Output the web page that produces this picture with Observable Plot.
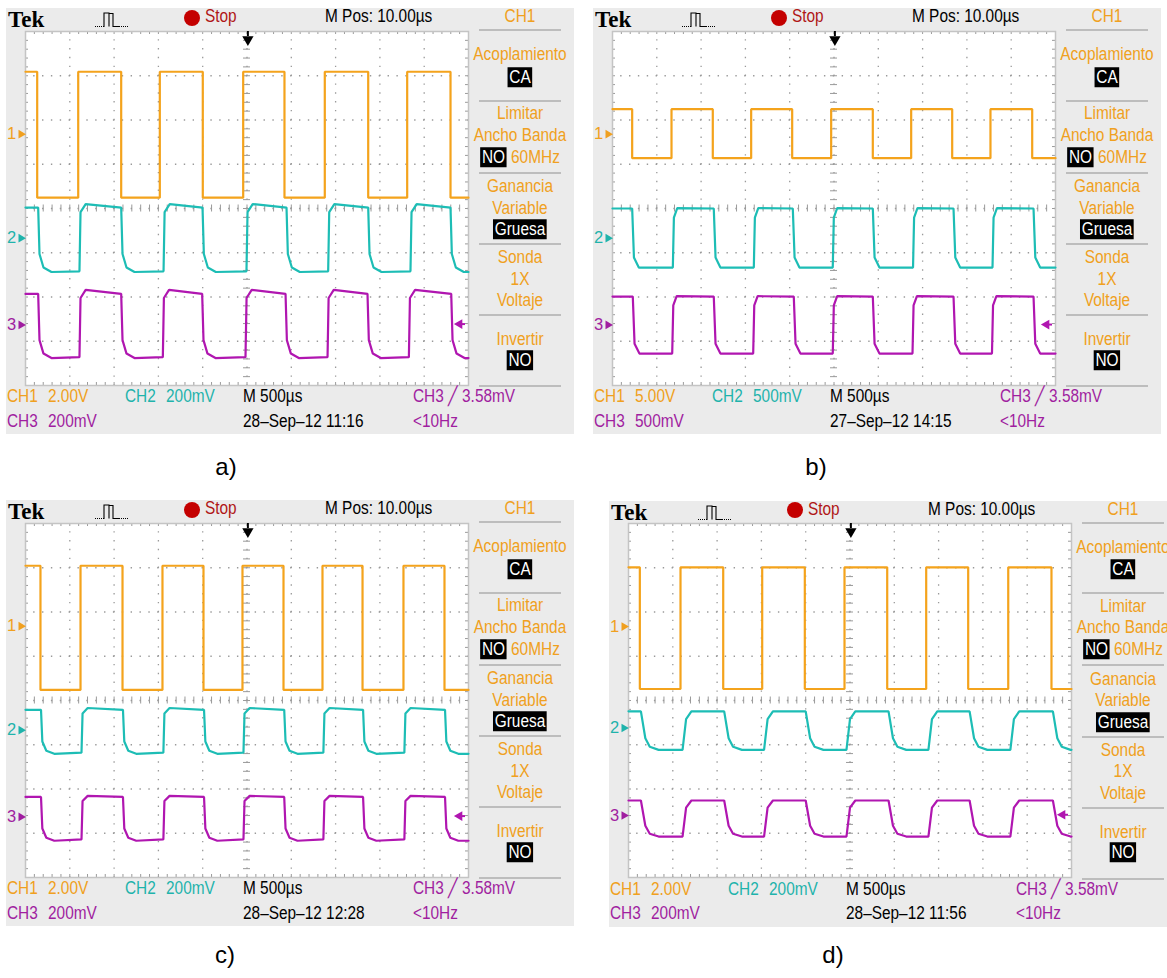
<!DOCTYPE html>
<html><head><meta charset="utf-8">
<script src="https://cdn.jsdelivr.net/npm/d3@7"></script>
<script src="https://cdn.jsdelivr.net/npm/@observablehq/plot@0.6"></script>
<style>
html,body{margin:0;padding:0;background:#fff}
#page{position:relative;width:1167px;height:978px;overflow:hidden;background:#fff}
.panel{position:absolute;width:600px;height:440px}
.bg{position:absolute;background:#ebebeb}
.t{position:absolute;white-space:nowrap;line-height:1}
.box{background:#000;color:#fff;padding:0 2px}
.sep{position:absolute;height:2px;background:#bdbdbd}
.lab{position:absolute;font-family:"Liberation Sans",Arial,sans-serif;font-size:24px;color:#000;transform:translate(-50%,-50%);line-height:1}
</style></head>
<body><div id="page"></div>
<script>
// ---------------- DATA ----------------
const panelNames = ["a)", "b)", "c)", "d)"];
const dates = ["28\u2013Sep\u201312 11:16", "27\u2013Sep\u201312 14:15", "28\u2013Sep\u201312 12:28", "28\u2013Sep\u201312 11:56"];
// volts per division for each panel
const ch1Scale = [2, 5, 2, 2];
const ch2Scale = [0.2, 0.5, 0.2, 0.2];
const ch3Scale = [0.2, 0.5, 0.2, 0.2];
const ch1ScaleLabel = ["2.00V", "5.00V", "2.00V", "2.00V"];
const ch2ScaleLabel = ["200mV", "500mV", "200mV", "200mV"];
const ch3ScaleLabel = ["200mV", "500mV", "200mV", "200mV"];
// channel ground-marker positions (divisions from screen centre)
const ch1Pos = [1.68, 1.68, 1.68, 1.67];
const ch2Pos = [-0.67, -0.67, -0.67, -0.62];
const ch3Pos = [-2.63, -2.63, -2.63, -2.60];
const timePerDiv = 0.5;          // ms  (M 500µs)
const triggerPos = 0.01;         // ms  (M Pos 10.00µs)
const triggerLevel = 0.00358;    // V   (CH3 3.58mV)

// edge times in ms from left of screen (alternating fall, rise ... ; every trace starts high)
const a_ch1_edges = [0.132, 0.595, 1.080, 1.516, 2.001, 2.457, 2.923, 3.378, 3.868, 4.308, 4.797];
const a_ch2_edges = [0.143, 0.609, 1.080, 1.558, 1.998, 2.494, 2.946, 3.416, 3.868, 4.345, 4.797];
const a_ch3_edges = [0.143, 0.609, 1.080, 1.550, 1.994, 2.483, 2.935, 3.409, 3.860, 4.327, 4.805];
const b_ch1_edges = [0.222, 0.666, 1.132, 1.565, 2.028, 2.468, 2.938, 3.371, 3.834, 4.266, 4.737];
const b_ch2_edges = [0.222, 0.681, 1.143, 1.595, 2.035, 2.486, 2.938, 3.392, 3.849, 4.289, 4.752];
const b_ch3_edges = [0.229, 0.674, 1.143, 1.588, 2.046, 2.486, 2.938, 3.386, 3.849, 4.283, 4.752];
const c_ch1_edges = [0.169, 0.621, 1.095, 1.546, 2.009, 2.449, 2.912, 3.352, 3.804, 4.266, 4.729];
const c_ch2_edges = [0.175, 0.632, 1.100, 1.556, 2.015, 2.460, 2.920, 3.362, 3.810, 4.276, 4.735];
const c_ch3_edges = [0.175, 0.632, 1.100, 1.556, 2.015, 2.460, 2.920, 3.362, 3.810, 4.276, 4.735];
const d_ch1_edges = [0.128, 0.587, 1.069, 1.509, 1.990, 2.438, 2.920, 3.360, 3.834, 4.286, 4.774];
const d_ch2_edges = [0.140, 0.610, 1.080, 1.530, 2.000, 2.460, 2.935, 3.385, 3.850, 4.310, 4.790];
const d_ch3_edges = [0.140, 0.610, 1.080, 1.530, 2.000, 2.460, 2.935, 3.385, 3.850, 4.310, 4.790];

// levels in volts: [high at rise, high before fall, low after fall, low before rise]
const a_ch1_levels = [2.82, 2.82, -2.87, -2.87];
const a_ch2_levels = [0.154, 0.138, -0.153, -0.150];
const a_ch3_levels = [0.158, 0.140, -0.150, -0.146];
const b_ch1_levels = [2.82, 2.82, -2.71, -2.71];
const b_ch2_levels = [0.339, 0.335, -0.332, -0.332];
const b_ch3_levels = [0.324, 0.320, -0.324, -0.324];
const c_ch1_levels = [2.73, 2.73, -2.88, -2.88];
const c_ch2_levels = [0.100, 0.092, -0.107, -0.102];
const c_ch3_levels = [0.095, 0.090, -0.108, -0.102];
const d_ch1_levels = [2.68, 2.68, -2.82, -2.82];
const d_ch2_levels = [0.075, 0.075, -0.099, -0.099];
const d_ch3_levels = [0.068, 0.068, -0.095, -0.095];

// edge shapes: [ms after edge, fraction of the swing done]
const sharpEdge = [[0, 0], [0, 1]];
const a_fall = [[0, 0], [0.015, 0.72], [0.06, 0.93], [0.15, 1]];
const a_rise = [[0, 0], [0.012, 0.88], [0.07, 1]];
const b_fall = [[0, 0], [0.02, 0.83], [0.075, 1]];
const b_rise = [[0, 0], [0.012, 0.84], [0.05, 1]];
const d_fall = [[0, 0], [0.05, 0.7], [0.1, 0.92], [0.2, 1]];
const d_rise = [[0, 0], [0.04, 0.8], [0.1, 1]];

const panelOffsetX = [0, 587, 0, 603];
const panelOffsetY = [0, 0, 492, 492.5];
const labelX = [226, 816, 225, 833];
const labelY = [467, 467, 955, 955];

// ---------------- STYLE ----------------
const ORANGE = "#f4a31c", CYAN = "#1dbdb5", MAGENTA = "#b016b0";
const TXT_OR = "#f0a020", TXT_CY = "#1fb3ab", TXT_MG = "#a01ea0";
const GRID = "#9a9a9a", BORDER = "#c4c4c4";
const FONT = '"Liberation Sans",Arial,sans-serif';
const SQUEEZE = 0.88;

const panels = [
  {ch1: [a_ch1_edges, a_ch1_levels, sharpEdge, sharpEdge], ch2: [a_ch2_edges, a_ch2_levels, a_fall, a_rise], ch3: [a_ch3_edges, a_ch3_levels, a_fall, a_rise]},
  {ch1: [b_ch1_edges, b_ch1_levels, sharpEdge, sharpEdge], ch2: [b_ch2_edges, b_ch2_levels, b_fall, b_rise], ch3: [b_ch3_edges, b_ch3_levels, b_fall, b_rise]},
  {ch1: [c_ch1_edges, c_ch1_levels, sharpEdge, sharpEdge], ch2: [c_ch2_edges, c_ch2_levels, a_fall, a_rise], ch3: [c_ch3_edges, c_ch3_levels, a_fall, a_rise]},
  {ch1: [d_ch1_edges, d_ch1_levels, sharpEdge, sharpEdge], ch2: [d_ch2_edges, d_ch2_levels, d_fall, d_rise], ch3: [d_ch3_edges, d_ch3_levels, d_fall, d_rise]}
];

function buildTrace([edges, levels, fallShape, riseShape], vdiv, pos) {
  const [hs, he, ls, le] = levels;
  const pts = [{t: 0, v: he}];
  let high = true;
  for (const t of edges) {
    const from = high ? he : le, to = high ? ls : hs;
    for (const [dt, f] of (high ? fallShape : riseShape)) pts.push({t: Math.min(5, t + dt), v: from + (to - from) * f});
    high = !high;
  }
  pts.push({t: 5, v: pts[pts.length - 1].v});
  return pts.map(d => ({t: d.t, y: pos + d.v / vdiv}));
}

function scopePlot(i) {
  const W = 443, H = 354, mL = 22, mR = 8, mT = 4, mB = 4;
  const pxT = W / 5, pxV = H / 8;
  const minorT = d3.range(0, 5.0001, 0.1);
  const minorV = d3.range(-4, 4.0001, 0.2);
  const majorT = d3.range(1, 10).map(k => k * timePerDiv);
  const majorV = d3.range(-3, 4);
  const tr1 = buildTrace(panels[i].ch1, ch1Scale[i], ch1Pos[i]);
  const tr2 = buildTrace(panels[i].ch2, ch2Scale[i], ch2Pos[i]);
  const tr3 = buildTrace(panels[i].ch3, ch3Scale[i], ch3Pos[i]);
  const markers = [
    {n: "1", y: ch1Pos[i], c: TXT_OR},
    {n: "2", y: ch2Pos[i], c: TXT_CY},
    {n: "3", y: ch3Pos[i], c: TXT_MG}
  ];
  const trigX = 2.5 + triggerPos;
  const trigY = ch3Pos[i] + triggerLevel / ch3Scale[i];
  return Plot.plot({
    width: W + mL + mR, height: H + mT + mB,
    marginLeft: mL, marginRight: mR, marginTop: mT, marginBottom: mB,
    x: {domain: [0, 5], axis: null},
    y: {domain: [-4, 4], axis: null},
    style: {background: "transparent", overflow: "visible"},
    marks: [
      Plot.frame({fill: "white", stroke: null}),
      Plot.ruleX(majorT, {stroke: GRID, strokeWidth: 1.3, strokeDasharray: "1.4 " + (pxV / 5 - 1.4), strokeDashoffset: 0.7}),
      Plot.ruleY(majorV, {stroke: GRID, strokeWidth: 1.3, strokeDasharray: "1.4 " + (pxT / 10 - 1.4), strokeDashoffset: 0.7}),
      Plot.ruleX(minorT, {y1: 4, y2: 4 - 3 / pxV, stroke: GRID}),
      Plot.ruleX(minorT, {y1: -4, y2: -4 + 3 / pxV, stroke: GRID}),
      Plot.ruleY(minorV, {x1: 0, x2: 3 / pxT, stroke: GRID}),
      Plot.ruleY(minorV, {x1: 5, x2: 5 - 3 / pxT, stroke: GRID}),
      Plot.ruleX(minorT, {y1: -3.5 / pxV, y2: 3.5 / pxV, stroke: GRID}),
      Plot.ruleY(minorV, {x1: 2.5 - 3.5 / pxT, x2: 2.5 + 3.5 / pxT, stroke: GRID}),
      Plot.frame({stroke: BORDER, strokeWidth: 1.5}),
      Plot.line(tr1, {x: "t", y: "y", stroke: ORANGE, strokeWidth: 2.2, strokeLinejoin: "miter"}),
      Plot.line(tr2, {x: "t", y: "y", stroke: CYAN, strokeWidth: 2.2, strokeLinejoin: "miter"}),
      Plot.line(tr3, {x: "t", y: "y", stroke: MAGENTA, strokeWidth: 2.2, strokeLinejoin: "miter"}),
      Plot.text(markers, {x: 0, y: "y", text: "n", fill: "c", dx: -14, fontSize: 16.5, fontFamily: FONT}),
      Plot.dot(markers, {x: 0, y: "y", fill: "c", dx: -4.5, symbol: "triangle", rotate: 90, r: 3.2, stroke: null}),
      // trigger position marker (top) and trigger level marker (right)
      Plot.ruleX([trigX], {y1: 4, y2: 4 - 5 / pxV, stroke: "#000", strokeWidth: 2}),
      Plot.dot([trigX], {x: d => d, y: 4, dy: 8, symbol: "triangle", rotate: 180, r: 4.2, fill: "#000", stroke: null}),
      Plot.dot([trigY], {x: 5, y: d => d, dx: -9, symbol: "triangle", rotate: -90, r: 3.6, fill: MAGENTA, stroke: null}),
      Plot.ruleY([trigY], {x1: 5 - 9 / pxT, x2: 5 - 3 / pxT, y: d => d, stroke: MAGENTA, strokeWidth: 2})
    ]
  });
}

function addText(el, html, x, y, color, opts = {}) {
  const d = document.createElement("div");
  d.className = "t";
  const tx = opts.anchor === "middle" ? "-50%" : opts.anchor === "end" ? "-100%" : "0";
  const sq = opts.squeeze === undefined ? SQUEEZE : opts.squeeze;
  d.style.left = x + "px";
  d.style.top = y + "px";
  d.style.transformOrigin = opts.anchor === "middle" ? "50% 50%" : "0 50%";
  d.style.transform = `translate(${tx},-50%) scaleX(${sq})`;
  d.style.color = color;
  d.style.fontFamily = opts.family || FONT;
  d.style.fontSize = (opts.size || 17.5) + "px";
  if (opts.weight) d.style.fontWeight = opts.weight;
  d.innerHTML = html;
  el.appendChild(d);
  return d;
}

const page = document.getElementById("page");
panels.forEach((p, i) => {
  const el = document.createElement("div");
  el.className = "panel";
  el.style.left = panelOffsetX[i] + "px";
  el.style.top = panelOffsetY[i] + "px";
  page.appendChild(el);
  const bg = document.createElement("div");
  bg.className = "bg";
  bg.style.cssText = "left:6px;top:8px;width:568px;height:426px";
  el.appendChild(bg);
  // top bar
  addText(el, "Tek", 8, 19, "#000", {family: '"Liberation Serif","DejaVu Serif",serif', size: 23, weight: "bold", squeeze: 1});
  const icon = document.createElementNS("http://www.w3.org/2000/svg", "svg");
  icon.setAttribute("width", 40); icon.setAttribute("height", 20);
  icon.style.cssText = "position:absolute;left:92px;top:9px";
  icon.innerHTML = '<path d="M3 17.5H11M29 17.5H37" stroke="#000" stroke-width="1.2" stroke-dasharray="1 1" fill="none"/><path d="M11 17.5H12V4H17V17.5M17 6V4.5H21V17.5H28" stroke="#000" stroke-width="1.1" fill="none"/>';
  el.appendChild(icon);
  const dot = document.createElement("div");
  dot.style.cssText = "position:absolute;left:183.5px;top:9.5px;width:16px;height:16px;border-radius:50%;background:#c40000";
  el.appendChild(dot);
  addText(el, "Stop", 205, 17, "#b01616");
  addText(el, "M Pos: 10.00\u00b5s", 325, 17, "#000");
  addText(el, "CH1", 520, 17, TXT_OR, {anchor: "middle"});
  // side menu
  [30, 100.7, 172.7, 244, 315, 386].forEach(y => {
    const s = document.createElement("div");
    s.className = "sep";
    s.style.left = "479px"; s.style.width = "82px"; s.style.top = (y - 1) + "px";
    el.appendChild(s);
  });
  const menu = [
    ["Acoplamiento", 55], ['<span class="box">CA</span>', 77.5],
    ["Limitar", 114], ["Ancho Banda", 135.5], ['<span class="box">NO</span> 60MHz', 157.5],
    ["Ganancia", 187], ["Variable", 208.5], ['<span class="box">Gruesa</span>', 230],
    ["Sonda", 258], ["1X", 279.5], ["Voltaje", 301],
    ["Invertir", 340], ['<span class="box">NO</span>', 360.5]
  ];
  menu.forEach(([s, y]) => addText(el, s, 520, y, TXT_OR, {anchor: "middle"}));
  // plot area
  const holder = document.createElement("div");
  holder.style.cssText = "position:absolute;left:3px;top:26.7px";
  holder.appendChild(scopePlot(i));
  el.appendChild(holder);
  // bottom info
  addText(el, "CH1", 7, 397, TXT_OR);
  addText(el, ch1ScaleLabel[i], 48, 397, TXT_OR);
  addText(el, "CH2", 125, 397, TXT_CY);
  addText(el, ch2ScaleLabel[i], 166, 397, TXT_CY);
  addText(el, "M 500\u00b5s", 243, 397, "#000");
  addText(el, "CH3 \u2571 3.58mV", 413, 397, TXT_MG);
  addText(el, "CH3", 7, 421.5, TXT_MG);
  addText(el, ch3ScaleLabel[i], 48, 421.5, TXT_MG);
  addText(el, dates[i], 243, 421.5, "#000");
  addText(el, "&lt;10Hz", 413, 421.5, TXT_MG);
  // caption letter
  const lab = document.createElement("div");
  lab.className = "lab";
  lab.style.left = labelX[i] + "px";
  lab.style.top = labelY[i] + "px";
  lab.textContent = panelNames[i];
  page.appendChild(lab);
});
</script>
</body></html>
